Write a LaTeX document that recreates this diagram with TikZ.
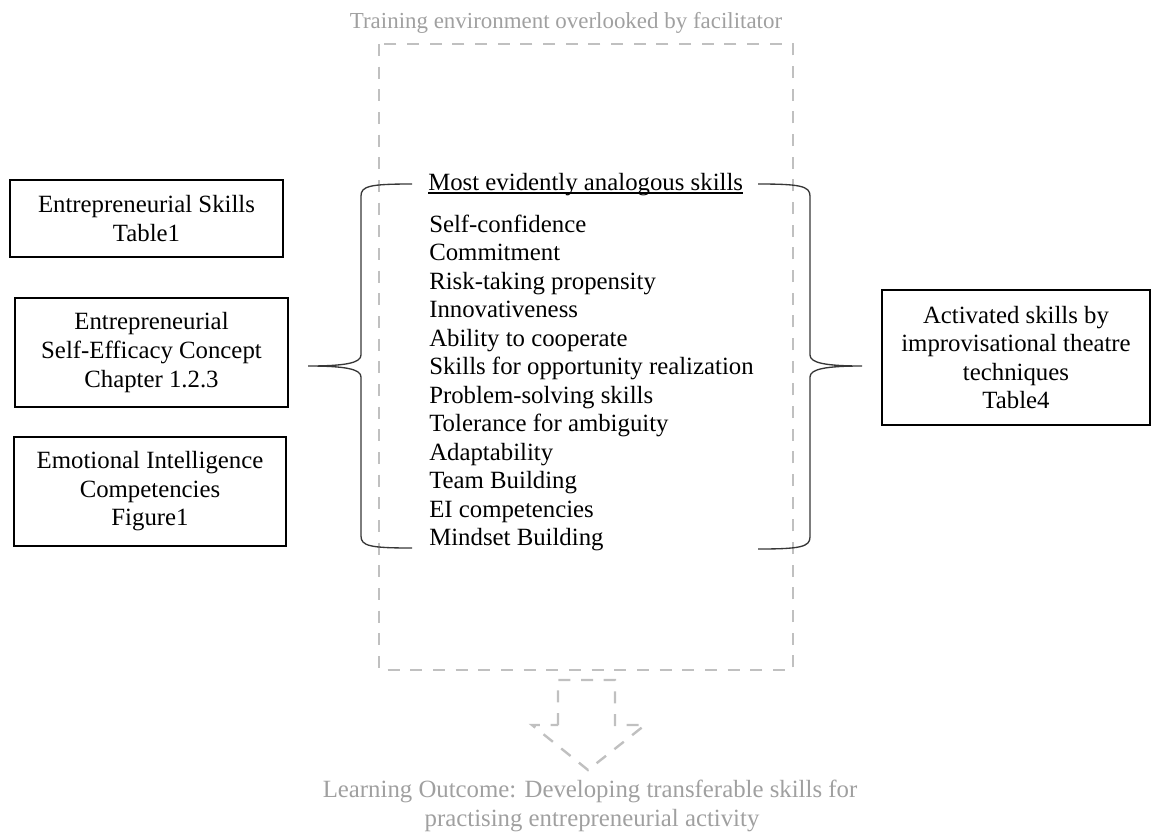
\documentclass[tikz,border=0pt]{standalone}
\usepackage{fontspec}
\setmainfont{Liberation Serif}
\usetikzlibrary{calc, positioning}
\definecolor{framegray}{RGB}{192,192,192}
\definecolor{textgray}{RGB}{160,160,160}
\definecolor{bracegray}{RGB}{55,55,55}

\begin{document}
\begin{tikzpicture}[x=0.75pt, y=-0.75pt,
    every node/.style={font=\fontsize{18.6}{21.4}\selectfont, inner sep=0pt},
    srcbox/.style={draw, line width=1.1pt, align=center},
    frame/.style={draw=framegray, line width=1.8pt, dash pattern=on 9pt off 8pt},
    brace/.style={draw=bracegray, line width=1pt},
    faded/.style={text=textgray}]

  \useasboundingbox (0,0) rectangle (1152,832);

  % training environment
  \path (379, 44) node[coordinate] (f1) {}
        (793,670) node[coordinate] (f2) {};
  \draw[frame] (f1) rectangle (f2);
  \node[faded, anchor=base, font=\fontsize{17.2}{20}\selectfont] (title) at (566,28)
    {Training environment overlooked by facilitator};

  % sources on the left
  \node[srcbox, minimum width=204.75pt, minimum height=57.75pt] (skills) at (146.5,218.5)
    {Entrepreneurial Skills\\Table1};
  \node[srcbox, minimum width=204.75pt, minimum height=81.75pt] (ese) at (151.5,352.5)
    {Entrepreneurial\\Self-Efficacy Concept\\Chapter 1.2.3};
  \node[srcbox, minimum width=204pt, minimum height=81.75pt] (eic) at (150,491.5)
    {Emotional Intelligence\\Competencies\\Figure1};

  % analogous skills
  \node[anchor=base west] (head) at (428,190) {Most evidently analogous skills};
  \draw[line width=0.8pt] ([yshift=-2.25pt]head.base west) -- ([yshift=-2.25pt]head.base east);

  \foreach \skill [count=\i] in {Self-confidence, Commitment, Risk-taking propensity,
      Innovativeness, Ability to cooperate, Skills for opportunity realization,
      Problem-solving skills, Tolerance for ambiguity, Adaptability, Team Building,
      EI competencies, Mindset Building}
    \node[anchor=base west] (sk\i) at (429,{232+28.5*(\i-1)}) {\skill};

  % braces
  \path (412,184) node[coordinate] (lt) {}
        (412,548) node[coordinate] (lb) {}
        (308,366) node[coordinate] (ltip) {}
        (758,184) node[coordinate] (rt) {}
        (758,549) node[coordinate] (rb) {}
        (862,366) node[coordinate] (rtip) {};

  \draw[brace] (lt)
    .. controls (370,184) and (361,186) .. (361,196) -- (361,355)
    .. controls (361,363) and (345,366) .. (ltip)
    .. controls (345,366) and (361,369) .. (361,377) -- (361,536)
    .. controls (361,546) and (370,548) .. (lb);

  \draw[brace] (rt)
    .. controls (800,184) and (810,186) .. (810,196) -- (810,355)
    .. controls (810,363) and (826,366) .. (rtip)
    .. controls (826,366) and (810,369) .. (810,377) -- (810,537)
    .. controls (810,547) and (800,549) .. (rb);

  % result on the right
  \node[srcbox, minimum width=201pt, minimum height=101.25pt] (act) at (1016,357.5)
    {Activated skills by\\improvisational theatre\\techniques\\Table4};

  % outcome arrow
  \draw[frame] (558,725) -- (558,680) -- (615,680) -- (615,725) -- (645,725)
    -- (588,770) -- (532,725) -- cycle;
  \node[faded, anchor=base] (out1) at (590,797)
    {Learning Outcome: Developing transferable skills for};
  \node[faded, anchor=base] (out2) at (592,826)
    {practising entrepreneurial activity};

\end{tikzpicture}
\end{document}
